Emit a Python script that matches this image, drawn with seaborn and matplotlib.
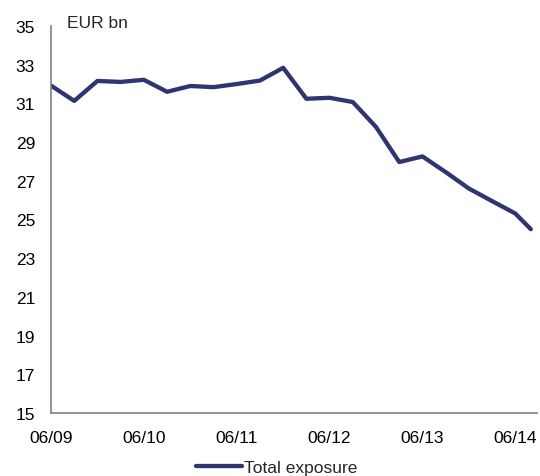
import matplotlib
matplotlib.use("Agg")
import matplotlib.pyplot as plt
import seaborn as sns
import pandas as pd

# Months elapsed since June 2009 (quarterly, last reading in August 2014)
months = [0, 3, 6, 9, 12, 15, 18, 21, 24, 27, 30, 33, 36, 39, 42, 45, 48, 51, 54, 57, 60, 62]
exposure = [31.92, 31.13, 32.16, 32.11, 32.22, 31.60, 31.90, 31.84, 32.00, 32.18, 32.84,
            31.24, 31.29, 31.07, 29.78, 27.97, 28.26, 27.45, 26.60, 25.95, 25.31, 24.50]
tick_months = [0, 12, 24, 36, 48, 60]
tick_labels = ["06/09", "06/10", "06/11", "06/12", "06/13", "06/14"]
y_ticks = list(range(15, 36, 2))

sns.set_style("white")
plt.rcParams["font.family"] = ["Liberation Sans", "DejaVu Sans"]

df = pd.DataFrame({"month": months, "value": exposure, "series": "Total exposure"})

W, H = 540, 477
fig = plt.figure(figsize=(W / 100, H / 100), dpi=100)
ax = fig.add_axes([51 / W, 1 - 414 / H, (537 - 51) / W, (414 - 27) / H])

navy = "#2f3571"
sns.lineplot(data=df, x="month", y="value", hue="series", palette=[navy],
             linewidth=3.1, ax=ax, legend=True)

ax.set_xlim(0, 62.8)
ax.set_ylim(15, 35)
ax.set_xticks(tick_months)
ax.set_xticklabels(tick_labels)
ax.set_yticks(y_ticks)
ax.set_xlabel("")
ax.set_ylabel("")

for side in ("top", "right"):
    ax.spines[side].set_visible(False)
for side in ("left", "bottom"):
    ax.spines[side].set_color("#808080")
    ax.spines[side].set_linewidth(1.2)

ax.tick_params(axis="y", length=0, pad=11.5, labelsize=12.5, colors="black")
ax.tick_params(axis="x", length=0, pad=12.5, labelsize=12.5, colors="black")

fig.text(67 / W, 1 - 24 / H, "EUR bn", fontsize=12.5, ha="left", va="center")

handles, labels = ax.get_legend_handles_labels()
ax.get_legend().remove()
fig.legend(handles, labels, loc="center", bbox_to_anchor=(277 / W, 1 - 468 / H),
           frameon=False, fontsize=12.5, handlelength=2.6, handletextpad=0.15,
           borderpad=0, borderaxespad=0)

fig.savefig("out.png", dpi=100)
